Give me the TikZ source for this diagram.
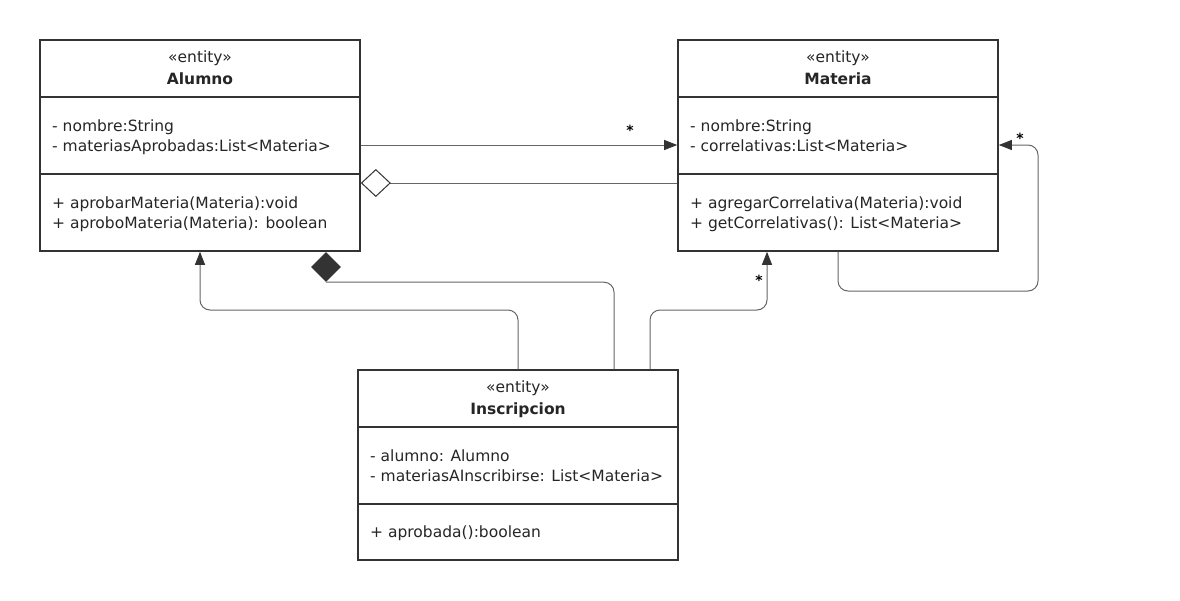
\documentclass[tikz,border=0pt]{standalone}
\usepackage{fontspec}
\setmainfont{DejaVu Sans}
\usetikzlibrary{arrows.meta, shapes.geometric}

\tikzset{
  classbox/.style={draw=black!80, line width=1.6pt, minimum width=320pt, inner sep=0pt},
  sep/.style={draw=black!80, line width=1.6pt},
  member/.style={anchor=west, inner sep=0pt, text height=11pt, text depth=3pt,
    font=\fontsize{15.5}{18}\selectfont, text=black!85},
  stereo/.style={inner sep=0pt, text height=11pt, text depth=3pt,
    font=\fontsize{15.5}{18}\selectfont, text=black!85},
  cname/.style={stereo, font=\fontsize{15.5}{18}\selectfont\bfseries},
  link/.style={draw=black!60, line width=1pt, rounded corners=10pt},
  assoc/.style={link, -{Triangle[length=13pt, width=10pt, fill=black!80, color=black!80]}},
  aggr/.style={link, -{Diamond[open, length=30pt, width=28pt, fill=white, color=black!80]}},
  mult/.style={inner sep=0pt, font=\fontsize{14}{16}\selectfont\bfseries}
}

\begin{document}
\begin{tikzpicture}[x=1pt, y=-1pt]
\fill[white] (0,0) rectangle (1180,600);

% Alumno
\node[classbox, minimum height=211pt] (alumno) at (200,145.5) {};
\draw[sep] (40,97) -- (360,97);
\draw[sep] (40,174) -- (360,174);
\node[stereo] (alumnoStereo) at (200,58) {«entity»};
\node[cname] (alumnoName) at (200,80) {Alumno};
\node[member] (alumnoA1) at (52,127) {- nombre:String};
\node[member] (alumnoA2) at (52,147) {- materiasAprobadas:List<Materia>};
\node[member] (alumnoM1) at (52,204) {+ aprobarMateria(Materia):void};
\node[member] (alumnoM2) at (52,224) {+ aproboMateria(Materia): boolean};

% Materia
\node[classbox, minimum height=211pt] (materia) at (838,145.5) {};
\draw[sep] (678,97) -- (998,97);
\draw[sep] (678,174) -- (998,174);
\node[stereo] (materiaStereo) at (838,58) {«entity»};
\node[cname] (materiaName) at (838,80) {Materia};
\node[member] (materiaA1) at (690,127) {- nombre:String};
\node[member] (materiaA2) at (690,147) {- correlativas:List<Materia>};
\node[member] (materiaM1) at (690,204) {+ agregarCorrelativa(Materia):void};
\node[member] (materiaM2) at (690,224) {+ getCorrelativas(): List<Materia>};

% Inscripcion
\node[classbox, minimum height=190pt] (inscripcion) at (518,465) {};
\draw[sep] (358,427) -- (678,427);
\draw[sep] (358,504) -- (678,504);
\node[stereo] (inscStereo) at (518,388) {«entity»};
\node[cname] (inscName) at (518,410) {Inscripcion};
\node[member] (inscA1) at (370,457) {- alumno: Alumno};
\node[member] (inscA2) at (370,477) {- materiasAInscribirse: List<Materia>};
\node[member] (inscM1) at (370,533) {+ aprobada():boolean};

% relations
\draw[assoc] (alumno.east |- 0,145) -- (materia.west |- 0,145);
\node[mult] (mAssoc) at (630,130) {*};
\draw[aggr] (materia.west |- 0,183) -- (alumno.east |- 0,183);
\draw[assoc] (inscripcion.north) |- (200,310) -- (alumno.south);
\node[diamond, aspect=1, fill=black!80, inner sep=0pt, minimum width=30pt, minimum height=30pt] (compDia) at (326,267) {};
\draw[link] ([xshift=96pt]inscripcion.north) |- (compDia.south);
\draw[assoc] ([xshift=132pt]inscripcion.north) |- (767,310) -- ([xshift=-71pt]materia.south);
\node[mult] (mInsc) at (759,280) {*};
\draw[assoc] (materia.south) |- (1038,291) |- (materia.east |- 0,145);
\node[mult] (mSelf) at (1020,138) {*};
\end{tikzpicture}
\end{document}
